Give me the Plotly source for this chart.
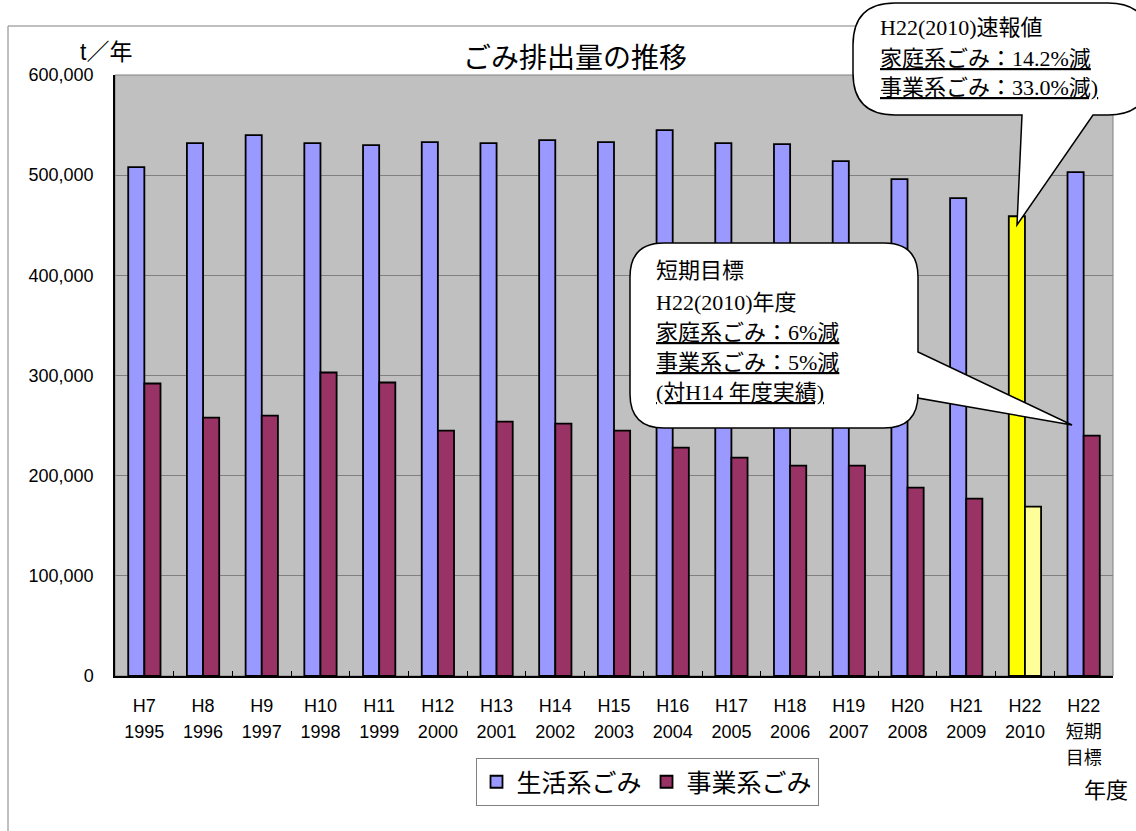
import plotly.graph_objects as go

categories = ["H7<br>1995", "H8<br>1996", "H9<br>1997", "H10<br>1998", "H11<br>1999",
              "H12<br>2000", "H13<br>2001", "H14<br>2002", "H15<br>2003", "H16<br>2004",
              "H17<br>2005", "H18<br>2006", "H19<br>2007", "H20<br>2008", "H21<br>2009",
              "H22<br>2010", "H22<br>短期<br>目標"]
household = [508000, 532000, 540000, 532000, 530000, 533000, 532000, 535000, 533000,
             545000, 532000, 531000, 514000, 496000, 477000, 459000, 503000]
business = [292000, 258000, 260000, 303000, 293000, 245000, 254000, 252000, 245000,
            228000, 218000, 210000, 210000, 188000, 177000, 169000, 240000]
series_names = ["生活系ごみ", "事業系ごみ"]

BLUE, MAROON = "#9999FF", "#993366"
YEL, LYEL = "#FFFF00", "#FFFF99"
hl_index = 15  # H22 2010 preliminary

house_colors = [YEL if i == hl_index else BLUE for i in range(len(categories))]
biz_colors = [LYEL if i == hl_index else MAROON for i in range(len(categories))]

W, H = 1136, 831
L, R, T, B = 115, 1113, 75, 676


def px(x):
    return (x - L) / (R - L)


def py(y):
    return (B - y) / (B - T)


fig = go.Figure()
fig.add_trace(go.Bar(x=categories, y=household, name=series_names[0],
                     marker=dict(color=house_colors, line=dict(color="black", width=1.8))))
fig.add_trace(go.Bar(x=categories, y=business, name=series_names[1],
                     marker=dict(color=biz_colors, line=dict(color="black", width=1.8))))

shapes = []
# outer chart frame
shapes.append(dict(type="rect", xref="paper", yref="paper", x0=px(8), x1=px(1145), y0=py(26), y1=py(845),
                   line=dict(color="#808080", width=1), fillcolor="rgba(0,0,0,0)", layer="below"))
# plot area border
shapes.append(dict(type="rect", xref="paper", yref="paper", x0=0, x1=1, y0=0, y1=1,
                   line=dict(color="#808080", width=1), fillcolor="rgba(0,0,0,0)", layer="below"))


def P(x, y):
    return f"{px(x):.5f},{py(y):.5f}"


def bubble_right(x0, y0, x1, y1, r, p1, p2, tip):
    return (f"M{P(x0 + r, y0)} L{P(x1 - r, y0)} Q{P(x1, y0)} {P(x1, y0 + r)} "
            f"L{P(x1, p1)} L{P(*tip)} L{P(x1, p2)} L{P(x1, y1 - r)} Q{P(x1, y1)} {P(x1 - r, y1)} "
            f"L{P(x0 + r, y1)} Q{P(x0, y1)} {P(x0, y1 - r)} L{P(x0, y0 + r)} Q{P(x0, y0)} {P(x0 + r, y0)} Z")


def bubble_bottom(x0, y0, x1, y1, r, p1, p2, tip):
    return (f"M{P(x0 + r, y0)} L{P(x1 - r, y0)} Q{P(x1, y0)} {P(x1, y0 + r)} "
            f"L{P(x1, y1 - r)} Q{P(x1, y1)} {P(x1 - r, y1)} "
            f"L{P(p1, y1)} L{P(*tip)} L{P(p2, y1)} "
            f"L{P(x0 + r, y1)} Q{P(x0, y1)} {P(x0, y1 - r)} L{P(x0, y0 + r)} Q{P(x0, y0)} {P(x0 + r, y0)} Z")


shapes.append(dict(type="path", xref="paper", yref="paper",
                   path=bubble_right(630, 243, 918, 428, 34, 352, 398, (1072, 425)),
                   fillcolor="white", line=dict(color="black", width=1.5), layer="above"))
shapes.append(dict(type="path", xref="paper", yref="paper",
                   path=bubble_bottom(853, 3, 1150, 115, 42, 1093, 1022, (1017, 225)),
                   fillcolor="white", line=dict(color="black", width=1.5), layer="above"))

SERIF = "Liberation Serif, Noto Sans CJK JP, serif"
SANS = "Liberation Sans, Noto Sans CJK JP, sans-serif"

annotations = []


def txt(x, y, s, size=22, family=SERIF, xanchor="left"):
    annotations.append(dict(xref="paper", yref="paper", x=px(x), y=py(y), text=s, showarrow=False,
                            xanchor=xanchor, yanchor="middle",
                            font=dict(family=family, size=size, color="black")))


# bubble 2 text
txt(654, 270, "短期目標")
txt(654, 302, "H22(2010)年度")
txt(654, 332, "<u>家庭系ごみ：6%減</u>")
txt(654, 362, "<u>事業系ごみ：5%減</u>")
txt(654, 392, "<u>(対H14 年度実績)</u>")
# bubble 1 text
txt(878, 27, "H22(2010)速報値")
txt(878, 58, "<u>家庭系ごみ：14.2%減</u>")
txt(878, 88, "<u>事業系ごみ：33.0%減)</u>")

# axis unit labels and title
txt(106, 52, "t／年", size=23, family=SANS, xanchor="center")
txt(1106, 790, "年度", size=22, family=SANS, xanchor="center")
annotations.append(dict(xref="paper", yref="paper", x=px(575), y=py(56), text="ごみ排出量の推移",
                        showarrow=False, xanchor="center", yanchor="middle",
                        font=dict(family="Noto Sans CJK JP", size=28, color="black")))

ticktext = ["<br>".join(f"<span style='font-size:18px'>{part}</span>" for part in c.split("<br>"))
            for c in categories]

fig.update_layout(
    width=W, height=H,
    margin=dict(l=L, r=W - R, t=T, b=H - B, pad=0),
    paper_bgcolor="white", plot_bgcolor="#C0C0C0",
    barmode="group", bargap=0.45, bargroupgap=0,
    shapes=shapes, annotations=annotations,
    showlegend=True,
    legend=dict(orientation="h", x=px(647), y=py(758), xanchor="center", yanchor="top",
                bgcolor="white", bordercolor="#808080", borderwidth=1,
                font=dict(family=SANS, size=25, color="black"), itemwidth=30,
                traceorder="normal"),
    xaxis=dict(type="category", showline=True, linecolor="black", linewidth=1.5,
               tickvals=categories, ticktext=ticktext,
               ticks="inside", tickson="boundaries", ticklen=5, tickcolor="black",
               tickfont=dict(family=SANS, size=20, color="black"), showgrid=False,
               ticklabelstandoff=10),
    yaxis=dict(range=[0, 600000], dtick=100000, tickformat=",", showline=True, linecolor="black",
               linewidth=1.5, gridcolor="#808080", gridwidth=1, zeroline=False,
               tickfont=dict(family=SANS, size=18, color="black"), ticks="", ticklabelstandoff=16),
    font=dict(family=SANS),
)

fig.write_html("out.html", config={"displayModeBar": False},
               post_script="document.body.style.margin='0';")
